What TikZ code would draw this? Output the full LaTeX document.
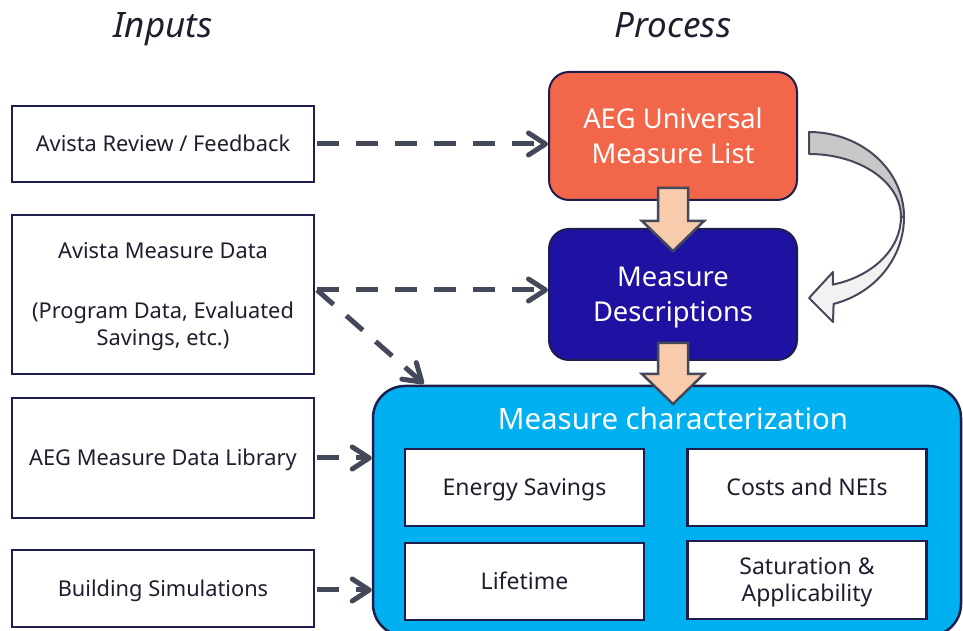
\documentclass[tikz,border=0pt]{standalone}
\usepackage{fontspec}
\setmainfont{Noto Sans}
\usetikzlibrary{arrows.meta,calc}
\definecolor{navy}{HTML}{1E1E4E}
\definecolor{txt}{HTML}{1E1E2E}
\definecolor{slate}{HTML}{44495A}
\definecolor{orng}{HTML}{F26649}
\definecolor{dblue}{HTML}{1F12A3}
\definecolor{cyanb}{HTML}{00B0F0}
\definecolor{peach}{HTML}{F8CBAD}
\definecolor{lgrey}{HTML}{C8C8C8}
\definecolor{wgrey}{HTML}{F2F2F2}
\begin{document}
\begin{tikzpicture}[x=1pt,y=1pt,
  heading/.style={font=\fontsize{35}{40}\selectfont\itshape, text=txt, anchor=base},
  inbox/.style={draw=navy, line width=2pt, fill=white, minimum width=302pt,
    align=center, font=\fontsize{21.8}{27}\selectfont, text=txt, inner sep=0pt,
    text height=15.6pt, text depth=0pt},
  procbox/.style={draw=navy, line width=2pt, rounded corners=20pt,
    minimum width=248pt, align=center, font=\fontsize{27.3}{35}\selectfont,
    text=white, inner sep=0pt, text height=54.5pt, text depth=0pt},
  subbox/.style={draw=navy, line width=2.5pt, fill=white, minimum width=239pt,
    minimum height=77pt, align=center, font=\fontsize{23}{27}\selectfont,
    text=txt, inner sep=0pt, text height=16.4pt, text depth=0pt},
  dasharrow/.style={draw=slate, line width=5pt, dash pattern=on 22pt off 17pt,
    -{Straight Barb[length=17pt,width=22pt,line cap=round,line join=round]}},
  barrow/.style={draw=slate, line width=2.5pt, fill=peach, line join=miter},
  cband/.style={draw=slate, line width=2pt, line join=round}
]
\useasboundingbox (0,0) rectangle (963,631);
\clip (0,0) rectangle (963,631);

% headings
\node[heading] (hin) at (163,593) {Inputs};
\node[heading] (hpr) at (673,593) {Process};

% input boxes
\node[inbox, minimum height=76pt] (b1) at (163,487) {Avista Review / Feedback};
\node[inbox, minimum height=159pt, text height=102.6pt] (b2) at (163,336.5)
  {Avista Measure Data\\[33pt](Program Data, Evaluated\\Savings, etc.)};
\node[inbox, minimum height=120pt] (b3) at (163,173) {AEG Measure Data Library};
\node[inbox, minimum height=77pt] (b4) at (163,42.5) {Building Simulations};

% process boxes
\node[procbox, fill=orng, minimum height=128pt] (uml) at (673,495)
  {AEG Universal\\Measure List};
\node[procbox, fill=dblue, minimum height=131pt] (md) at (673,336.5)
  {Measure\\Descriptions};

% measure characterization
\node[draw=navy, line width=2.5pt, fill=cyanb, rounded corners=32pt,
  minimum width=588pt, minimum height=250pt, inner sep=0pt] (mc) at (667,120) {};
\node[font=\fontsize{29.4}{34}\selectfont, text=white, inner sep=0pt,
  text height=21pt, text depth=0pt] (mct) at (673,212)
  {Measure characterization};
\node[subbox] (es) at (524.5,143.5) {Energy Savings};
\node[subbox] (cn) at (807,143.5) {Costs and NEIs};
\node[subbox] (lt) at (524.5,49.5) {Lifetime};
\node[subbox, minimum height=78pt, text height=43.4pt] (sa) at (807,51)
  {Saturation \&\\Applicability};

% block arrows
\draw[barrow] (uml.south) ++(-15,13) -- ++(0,-33) -- ++(-16,0) -- ++(31,-30)
  -- ++(31,30) -- ++(-16,0) -- ++(0,33) -- cycle;
\draw[barrow] (md.south) ++(-15,18) -- ++(0,-31) -- ++(-16,0) -- ++(31,-30)
  -- ++(31,30) -- ++(-16,0) -- ++(0,31) -- cycle;

% curved arrow
\coordinate (cc) at ($(uml.east)+(11,-81)$);
\begin{scope}[shift={(cc)}]
  \filldraw[cband, fill=lgrey] (0,85)
    arc[start angle=90, end angle=0, x radius=95, y radius=85]
    -- (92,0) arc[start angle=0, end angle=90, x radius=92, y radius=63] -- cycle;
  \filldraw[cband, fill=wgrey] (95,0)
    arc[start angle=0, end angle=-75, x radius=95, y radius=90]
    -- (24,-105) -- (0,-81) -- (24,-55) -- (23.8,-67.6)
    arc[start angle=-75, end angle=0, x radius=92, y radius=70] -- cycle;
\end{scope}

% dashed connectors
\coordinate (s1) at ([xshift=2pt]b1.east);
\coordinate (s2) at ([xshift=2pt,yshift=4.5pt]b2.east);
\coordinate (d3) at ([xshift=52pt,yshift=1pt]mc.north west);
\draw[dasharrow] (s1) -- (s1 -| uml.west);
\draw[dasharrow] (s2) -- (s2 -| md.west);
\draw[dasharrow] (s2) -- (d3);
\draw[dasharrow] ([xshift=2pt]b3.east) -- (b3.east -| mc.west);
\draw[dasharrow] ([xshift=2pt,yshift=-1.5pt]b4.east) -- ([yshift=-1.5pt]b4.east -| mc.west);
\end{tikzpicture}
\end{document}
